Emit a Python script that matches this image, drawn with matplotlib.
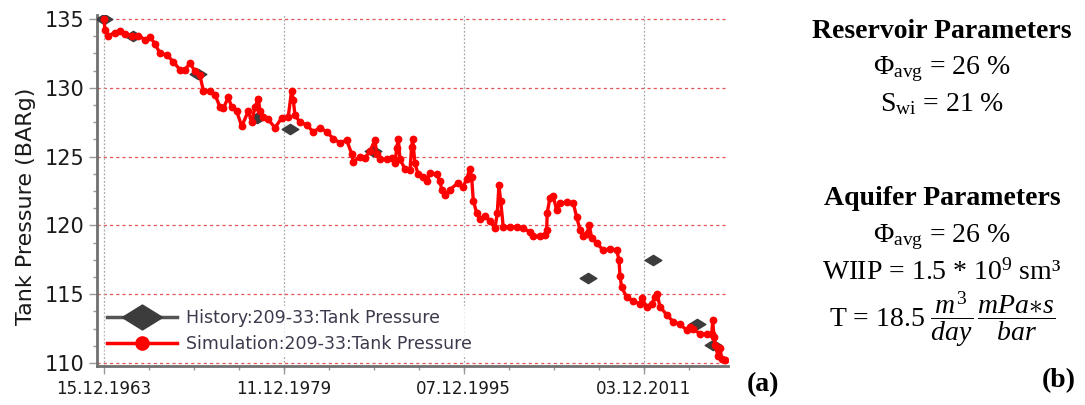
"""Tank pressure history match (a) and model parameters (b)."""

import matplotlib

matplotlib.use("Agg")
import matplotlib.pyplot as plt
import numpy as np
import pandas as pd
from matplotlib.lines import Line2D
from matplotlib.path import Path
from matplotlib.ticker import FixedLocator

# simulated tank pressure (decimal year, BARg)
sim_year = [
    1963.96, 1964.05, 1964.34, 1964.94, 1965.38, 1965.83, 1966.42, 1967.01, 1967.60, 1968.05,
    1968.49, 1968.94, 1969.53, 1970.12, 1970.72, 1971.16, 1971.60, 1972.05, 1972.49, 1972.79,
    1973.38, 1973.83, 1974.27, 1974.56, 1975.01, 1975.31, 1975.76, 1976.20, 1976.79, 1977.09,
    1977.38, 1977.68, 1977.83, 1978.12, 1978.56, 1979.16, 1979.76, 1980.34, 1980.64, 1980.79,
    1980.94, 1981.38, 1981.98, 1982.56, 1983.16, 1983.76, 1984.34, 1984.94, 1985.53, 1985.98,
    1986.12, 1986.72, 1987.16, 1987.60, 1988.05, 1988.20, 1988.49, 1989.09, 1989.53, 1989.83,
    1989.98, 1990.12, 1990.27, 1990.72, 1991.16, 1991.31, 1991.40, 1991.60, 1991.90, 1992.34,
    1992.65, 1992.94, 1993.53, 1993.83, 1993.98, 1994.27, 1994.72, 1995.45, 1995.90, 1996.20,
    1996.49, 1996.64, 1996.79, 1997.09, 1997.38, 1997.83, 1998.27, 1998.72, 1998.92, 1999.07,
    1999.22, 1999.45, 2000.05, 2000.64, 2001.23, 2001.83, 2002.12, 2002.72, 2003.16, 2003.31,
    2003.36, 2003.60, 2003.90, 2004.20, 2004.49, 2005.09, 2005.68, 2005.98, 2006.27, 2006.56,
    2006.87, 2007.10, 2007.31, 2007.76, 2008.34, 2008.94, 2009.53, 2009.74, 2009.83, 2009.98,
    2010.42, 2011.01, 2011.61, 2011.76, 2012.20, 2012.65, 2012.94, 2013.14, 2013.38, 2013.98,
    2014.56, 2015.16, 2015.76, 2016.05, 2016.34, 2016.94, 2017.53, 2017.98, 2018.07, 2018.18,
    2018.27, 2018.56, 2018.72, 2018.87, 2019.16,
]
sim_pressure = [
    135.0, 134.2, 133.8, 134.0, 134.1, 133.9, 133.8, 133.8, 133.5, 133.7,
    133.2, 132.5, 132.4, 131.9, 131.3, 131.3, 131.8, 131.2, 130.9, 129.8,
    129.8, 129.5, 128.6, 128.5, 129.3, 128.6, 128.3, 127.2, 128.3, 127.5,
    128.6, 129.2, 128.3, 127.9, 127.7, 127.1, 127.8, 127.9, 129.8, 129.1,
    128.0, 127.5, 127.3, 126.8, 127.1, 126.8, 126.3, 126.0, 126.2, 125.2,
    124.6, 125.0, 124.9, 125.4, 126.2, 125.2, 124.8, 124.8, 124.9, 124.5,
    125.6, 126.3, 124.8, 124.1, 124.0, 125.7, 126.3, 124.5, 123.7, 123.5,
    123.2, 123.8, 123.7, 123.2, 122.6, 122.2, 122.6, 123.1, 122.8, 123.4,
    124.1, 123.5, 121.8, 120.9, 120.5, 120.7, 120.3, 119.8, 120.9, 122.9,
    121.8, 119.9, 119.9, 119.9, 119.8, 119.5, 119.2, 119.2, 119.3, 119.7,
    120.9, 122.0, 122.1, 121.1, 121.6, 121.7, 121.6, 120.6, 119.7, 119.2,
    119.4, 120.0, 119.1, 118.7, 118.2, 118.3, 118.2, 117.5, 116.3, 115.5,
    114.8, 114.5, 114.3, 114.7, 114.1, 114.3, 114.8, 115.0, 114.1, 113.5,
    113.0, 112.8, 112.4, 112.6, 112.5, 112.1, 112.1, 112.1, 113.1, 111.9,
    111.3, 110.5, 111.1, 110.3, 110.2,
]

# measured (history) tank pressure
hist_year = [1963.96, 1966.5, 1972.3, 1977.6, 1980.5, 1987.9, 2007.0, 2012.8, 2016.7, 2018.1]
hist_pressure = [135.0, 133.8, 131.0, 127.8, 127.0, 125.4, 116.2, 117.5, 112.8, 111.3]

date_labels = ["15.12.1963", "11.12.1979", "07.12.1995", "03.12.2011"]
y_ticks = [110, 115, 120, 125, 130, 135]

legend_labels = ["History:209-33:Tank Pressure", "Simulation:209-33:Tank Pressure"]

param_lines = [
    ("Reservoir Parameters", "bold"),
    ("Φ$_{\\rm avg}$ = 26 %", "normal"),
    ("S$_{\\rm wi}$ = 21 %", "normal"),
    ("Aquifer Parameters", "bold"),
    ("Φ$_{\\rm avg}$ = 26 %", "normal"),
    ("WIIP = 1.5 * 10$^{9}$ sm³", "normal"),
    ("T = 18.5 $\\dfrac{m^3}{day}\\,\\dfrac{mPa{\\ast}s}{bar}$", "normal"),
]
param_y = [31, 69, 104, 198, 237, 272, 320]


def decimal_year(label):
    d = pd.to_datetime(label, format="%d.%m.%Y")
    return d.year + (d.dayofyear - 1) / 365.25


plt.rcParams["mathtext.fontset"] = "custom"
plt.rcParams["mathtext.rm"] = "Liberation Serif"
plt.rcParams["mathtext.it"] = "Liberation Serif:italic"
plt.rcParams["mathtext.bf"] = "Liberation Serif:bold"

W, H = 1085, 405
fig = plt.figure(figsize=(W / 100, H / 100), dpi=100)
ax = fig.add_axes([97 / W, 1 - 366 / H, (728 - 97) / W, (366 - 15) / H])

diamond = Path([(-1, 0), (0, 0.62), (1, 0), (0, -0.62), (-1, 0)],
               [Path.MOVETO, Path.LINETO, Path.LINETO, Path.LINETO, Path.CLOSEPOLY])

tick_pos = [decimal_year(s) for s in date_labels]

for y in y_ticks:
    ax.axhline(y, color="#e05555", lw=0.9, ls=(0, (2.5, 2.5)), zorder=1)
for x in tick_pos:
    ax.axvline(x, color="#a8a8a8", lw=0.9, ls=(0, (1.5, 1.5)), zorder=1)

ax.plot(hist_year, hist_pressure, ls="none", marker=diamond, ms=12,
        color="#3c3c3c", zorder=3)
ax.plot(sim_year, sim_pressure, color="#ff0000", lw=2.4, marker="o", ms=4.6,
        mec="#ff0000", mfc="#ff0000", zorder=4)

ax.set_xlim(1963.34, 2019.43)
ax.set_ylim(109.78, 135.29)
ax.set_xticks(tick_pos)
ax.set_xticklabels(date_labels, fontsize=12, color="#1a1a1a")
ax.xaxis.set_minor_locator(FixedLocator(np.arange(tick_pos[0], 2019.5, 4.0)))
ax.set_yticks(y_ticks)
ax.set_yticklabels([str(v) for v in y_ticks], fontsize=15, color="#1a1a1a")
ax.yaxis.set_minor_locator(FixedLocator(np.arange(110, 135.1, 1.25)))
ax.tick_params(which="both", color="#999999", width=1)
ax.tick_params(which="major", length=6, pad=3)
ax.tick_params(which="minor", length=3)
ax.tick_params(axis="x", pad=4)

ax.set_ylabel("Tank Pressure (BARg)", fontsize=16, color="#1a1a1a")
ax.yaxis.set_label_coords(-0.097, 0.456)

for side in ("top", "right"):
    ax.spines[side].set_visible(False)
for side in ("left", "bottom"):
    ax.spines[side].set_color("#707070")
    ax.spines[side].set_linewidth(2)

handles = [
    Line2D([], [], color="#555555", lw=2.5, marker=diamond, ms=29,
           mfc="#3c3c3c", mec="#3c3c3c"),
    Line2D([], [], color="#ff0000", lw=2.5, marker="o", ms=9.5,
           mfc="#ff0000", mec="#ff0000"),
]
leg = ax.legend(handles, legend_labels, loc="lower left", bbox_to_anchor=(0.012, 0.03),
                fontsize=12.5, frameon=True, fancybox=False, handlelength=4.0,
                handletextpad=0.55, labelspacing=0.45, borderpad=0.15, borderaxespad=0)
leg.get_frame().set_facecolor("white")
leg.get_frame().set_edgecolor("white")
for t in leg.get_texts():
    t.set_color("#3a3a4c")
leg.set_zorder(5)

for (txt, weight), y in zip(param_lines, param_y):
    fig.text(942 / W, 1 - y / H, txt, ha="center", va="center", fontsize=20,
             family="Liberation Serif", weight=weight)

fig.text(763 / W, 1 - 385 / H, "(a)", ha="center", va="center", fontsize=20,
         family="Liberation Serif", weight="bold")
fig.text(1059 / W, 1 - 381 / H, "(b)", ha="center", va="center", fontsize=20,
         family="Liberation Serif", weight="bold")

fig.savefig("out.png", dpi=100)
